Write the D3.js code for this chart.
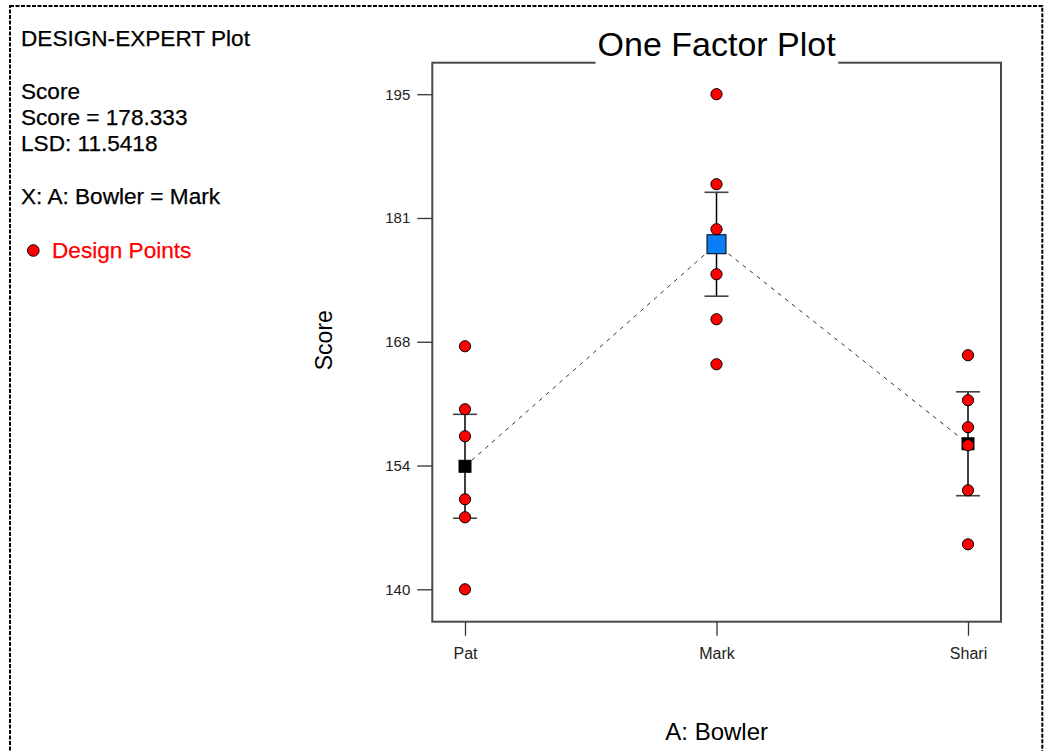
<!DOCTYPE html>
<html>
<head>
<meta charset="utf-8">
<script src="https://cdn.jsdelivr.net/npm/d3@7"></script>
<style>
  html, body { margin: 0; padding: 0; background: #fff; }
  svg { display: block; font-family: "Liberation Sans", Arial, sans-serif; }
</style>
</head>
<body>
<svg id="chart" width="1045" height="751"></svg>
<script>
// ---- data ----
const categories = ["Pat", "Mark", "Shari"];
const patScores = [167, 160, 157, 150, 148, 140];
const markScores = [195, 185, 180, 175, 170, 165];
const shariScores = [166, 161, 158, 156, 151, 145];
const lsd = 11.5418;
const yTickValues = [140, 153.75, 167.5, 181.25, 195];
const yTickLabels = ["140", "154", "168", "181", "195"];
const selectedCategory = "Mark";
const infoLines = ["DESIGN-EXPERT Plot", "", "Score", "Score = 178.333", "LSD: 11.5418", "", "X: A: Bowler = Mark"];

const seriesScores = [patScores, markScores, shariScores];
const means = seriesScores.map(a => d3.mean(a));

// ---- layout ----
const svg = d3.select("#chart");
const frame = { left: 432.3, right: 1001, top: 62.7, bottom: 621.7 };

const x = d3.scalePoint().domain(categories).range([465, 968]);
const y = d3.scaleLinear().domain([136.4, 198.5]).range([frame.bottom, frame.top]);

// dashed outer border
svg.append("rect")
  .attr("x", 10).attr("y", 6).attr("width", 1032.3).attr("height", 770)
  .attr("fill", "none").attr("stroke", "#000").attr("stroke-width", 2)
  .attr("stroke-dasharray", "4,1.5");

// left info text
const info = svg.append("g").attr("font-size", 22.6).attr("fill", "#000")
  .attr("stroke", "#000").attr("stroke-width", 0.25);
infoLines.forEach((t, i) => {
  if (!t) return;
  info.append("text").attr("x", 21).attr("y", 45.7 + i * 26.4).text(t);
});
svg.append("circle").attr("cx", 33.3).attr("cy", 250.5).attr("r", 5.8)
  .attr("fill", "#ff0000").attr("stroke", "#000").attr("stroke-width", 1);
svg.append("text").attr("x", 52).attr("y", 258.3).attr("font-size", 22.6)
  .attr("fill", "#ff0000").attr("stroke", "#ff0000").attr("stroke-width", 0.25)
  .text("Design Points");

// plot frame
svg.append("rect")
  .attr("x", frame.left).attr("y", frame.top)
  .attr("width", frame.right - frame.left).attr("height", frame.bottom - frame.top)
  .attr("fill", "none").attr("stroke", "#4a4a4a").attr("stroke-width", 2);

// title with white gap in frame
const titleBg = svg.append("rect").attr("fill", "#fff");
const title = svg.append("text")
  .attr("x", (frame.left + frame.right) / 2).attr("y", 55.7)
  .attr("text-anchor", "middle").attr("font-size", 34).attr("fill", "#000")
  .text("One Factor Plot");
const tb = title.node().getBBox();
titleBg.attr("x", tb.x - 2).attr("y", frame.top - 3)
  .attr("width", tb.width + 4).attr("height", 6);

// axes
const yAxis = d3.axisLeft(y).tickValues(yTickValues)
  .tickFormat((d, i) => yTickLabels[i]).tickSize(15).tickPadding(7);
const gy = svg.append("g").attr("transform", `translate(${frame.left},0)`).call(yAxis);
gy.select(".domain").remove();
gy.selectAll(".tick line").attr("stroke", "#333").attr("stroke-width", 1.3);
gy.selectAll(".tick text").attr("font-size", 15).attr("fill", "#222")
  .attr("font-family", "'Liberation Sans', Arial, sans-serif");

const xAxis = d3.axisBottom(x).tickSize(14).tickPadding(12);
const gx = svg.append("g").attr("transform", `translate(0,${frame.bottom})`).call(xAxis);
gx.select(".domain").remove();
gx.selectAll(".tick line").attr("stroke", "#333").attr("stroke-width", 1.3);
gx.selectAll(".tick text").attr("font-size", 16).attr("fill", "#222")
  .attr("font-family", "'Liberation Sans', Arial, sans-serif");

// axis titles
svg.append("text")
  .attr("transform", `translate(332,${(frame.top + frame.bottom) / 2 - 2}) rotate(-90)`)
  .attr("text-anchor", "middle").attr("font-size", 23).attr("fill", "#000")
  .text("Score");
svg.append("text")
  .attr("x", (frame.left + frame.right) / 2).attr("y", 740)
  .attr("text-anchor", "middle").attr("font-size", 24).attr("fill", "#000")
  .text("A: Bowler");

// dashed mean line
const line = d3.line().x((d, i) => x(categories[i])).y(d => y(d));
svg.append("path").datum(means).attr("d", line)
  .attr("fill", "none").attr("stroke", "#333").attr("stroke-width", 1)
  .attr("stroke-dasharray", "4,5");

// error bars (LSD)
const eb = svg.append("g").selectAll("g").data(categories).join("g");
eb.append("line")
  .attr("x1", d => x(d)).attr("x2", d => x(d))
  .attr("y1", (d, i) => y(means[i] + lsd / 2)).attr("y2", (d, i) => y(means[i] - lsd / 2))
  .attr("stroke", "#000").attr("stroke-width", 1.5);
[1, -1].forEach(s => {
  eb.append("line")
    .attr("x1", d => x(d) - 12).attr("x2", d => x(d) + 12)
    .attr("y1", (d, i) => y(means[i] + s * lsd / 2)).attr("y2", (d, i) => y(means[i] + s * lsd / 2))
    .attr("stroke", "#444").attr("stroke-width", 1.6);
});

// mean squares
svg.append("g").selectAll("rect").data(categories).join("rect")
  .attr("x", d => x(d) - (d === selectedCategory ? 9.5 : 6))
  .attr("y", (d, i) => y(means[i]) - (d === selectedCategory ? 9.5 : 6))
  .attr("width", d => d === selectedCategory ? 19 : 12)
  .attr("height", d => d === selectedCategory ? 19 : 12)
  .attr("fill", d => d === selectedCategory ? "#0a7ff5" : "#000")
  .attr("stroke", "#000").attr("stroke-width", 1);

// design points
const pts = [];
categories.forEach((c, i) => seriesScores[i].forEach(v => pts.push({ c, v })));
svg.append("g").selectAll("circle").data(pts).join("circle")
  .attr("cx", d => x(d.c)).attr("cy", d => y(d.v)).attr("r", 5.6)
  .attr("fill", "#ff0000").attr("stroke", "#000").attr("stroke-width", 1);
</script>
</body>
</html>
